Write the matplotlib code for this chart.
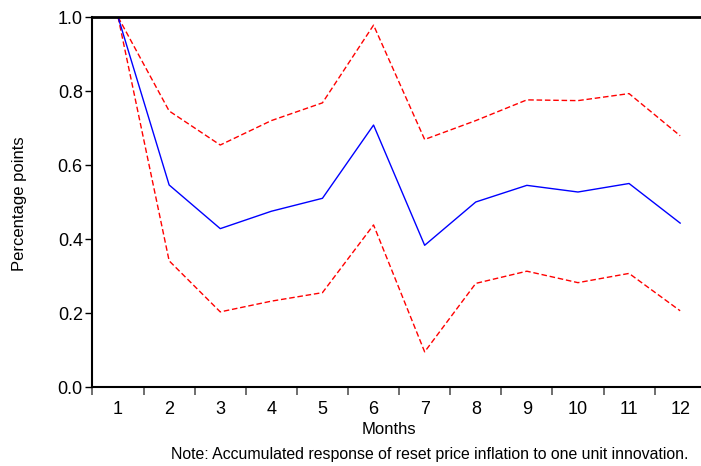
import matplotlib
matplotlib.use("Agg")
import matplotlib.pyplot as plt
import numpy as np

plt.rcParams['font.family'] = ['Liberation Sans', 'DejaVu Sans']

months = list(range(1, 13))
month_labels = [str(m) for m in months]
response = [1.0, 0.546, 0.428, 0.475, 0.510, 0.708, 0.383, 0.500, 0.545, 0.527, 0.550, 0.443]
upper = [1.0, 0.746, 0.654, 0.720, 0.768, 0.978, 0.669, 0.720, 0.776, 0.774, 0.793, 0.679]
lower = [1.0, 0.341, 0.203, 0.232, 0.255, 0.438, 0.095, 0.280, 0.313, 0.282, 0.307, 0.206]
yticks = [0.0, 0.2, 0.4, 0.6, 0.8, 1.0]

W, H = 701, 466
fig = plt.figure(figsize=(W / 100, H / 100), dpi=100)
left, right_px, top, bottom = 92.5, 92.5 + 12 * 51.1, 17, 387
ax = fig.add_axes([left / W, (H - bottom) / H, (right_px - left) / W, (bottom - top) / H])

ax.plot(months, upper, color='#ff0000', lw=1.0, ls=(0, (4, 2)))
ax.plot(months, lower, color='#ff0000', lw=1.0, ls=(0, (4, 2)))
ax.plot(months, response, color='#0000ff', lw=1.0)

ax.set_xlim(0.5, 12.5)
ax.set_ylim(0, 1.0)
ax.set_yticks(yticks)
ax.set_yticklabels([f"{v:.1f}" for v in yticks], fontsize=13)
ax.set_xticks(months)
ax.set_xticklabels(month_labels, fontsize=13)
ax.set_xticks(np.arange(0.5, 12.5, 1.0), minor=True)
ax.tick_params(axis='x', which='major', length=0, pad=10)
ax.tick_params(axis='x', which='minor', length=6, width=1.2, color='#555555', direction='out')
ax.tick_params(axis='y', length=5, width=1.0, direction='out', pad=2)

ax.spines['right'].set_visible(False)
ax.spines['top'].set_linewidth(2.0)
ax.spines['left'].set_linewidth(1.5)
ax.spines['bottom'].set_linewidth(1.5)

fig.text(20 / W, 1 - 204 / H, 'Percentage points', rotation=90, ha='center', va='center', fontsize=12)
fig.text(388.5 / W, 1 - 430 / H, 'Months', ha='center', va='center', fontsize=12)
fig.text(430 / W, 1 - 455 / H, 'Note: Accumulated response of reset price inflation to one unit innovation.',
         ha='center', va='center', fontsize=11.4)

fig.savefig('out.png', dpi=100)
